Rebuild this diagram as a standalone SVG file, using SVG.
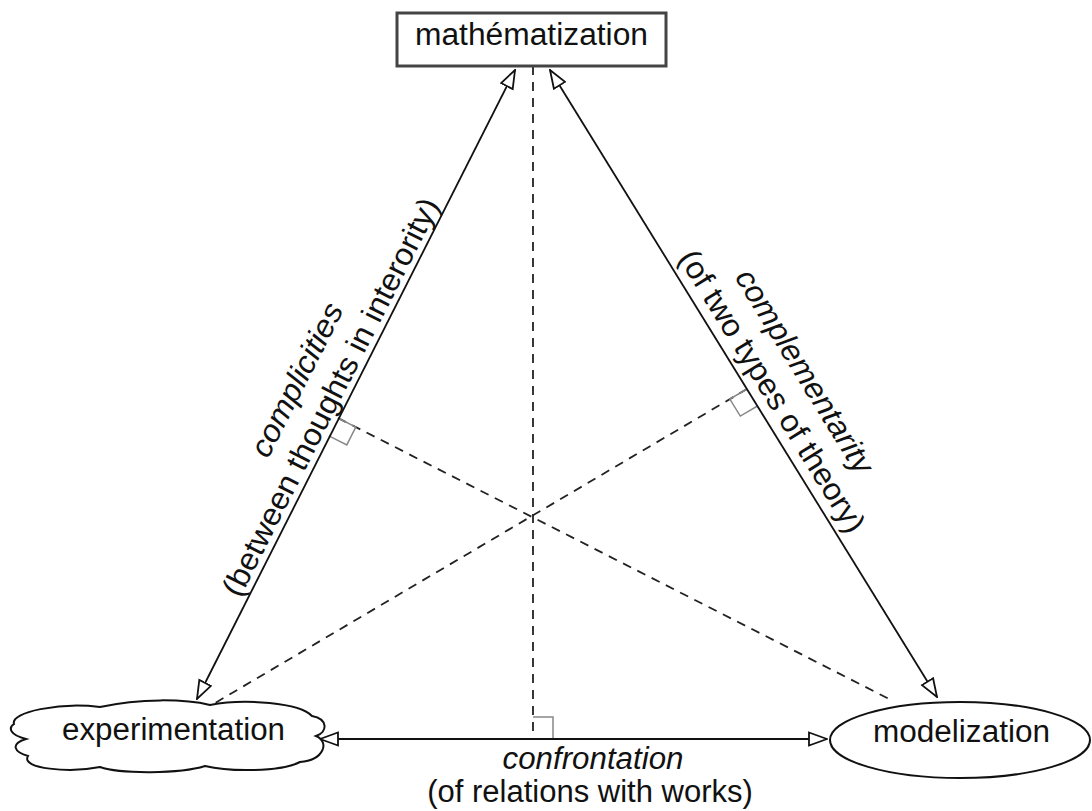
<svg xmlns="http://www.w3.org/2000/svg" width="1092" height="811" viewBox="0 0 1092 811">
<style>
  .lbl{font-family:"Liberation Sans",Arial,sans-serif;font-size:31px;fill:#111}
  .it{font-style:italic}
  .edge{stroke:#111;stroke-width:1.8;fill:none}
  .dash{stroke:#222;stroke-width:1.8;fill:none;stroke-dasharray:9 7}
  .sq{stroke:#888;stroke-width:1.5;fill:none}
  .shape{fill:#fff;stroke:#111;stroke-width:2}
</style>
<defs>
  <marker id="tri" viewBox="0 0 20 16" refX="19" refY="8" markerWidth="20" markerHeight="16" markerUnits="userSpaceOnUse" orient="auto-start-reverse">
    <path d="M1,1.5 L19,8 L1,14.5 Z" fill="#fff" stroke="#111" stroke-width="1.8" stroke-linejoin="miter"/>
  </marker>
</defs>
<rect width="1092" height="811" fill="#fff"/>

<g id="connectors">
  <line class="dash" x1="533" y1="66" x2="533" y2="739"/>
  <line class="dash" x1="338" y1="418" x2="893" y2="701"/>
  <line class="dash" x1="747" y1="389" x2="210" y2="706"/>
  <path class="sq" d="M338,418 L355.8,427.1 L346.8,444.9 L328.9,435.8"/>
  <path class="sq" d="M747,389 L729.8,399.1 L740.3,416.1 L757.5,406"/>
  <path class="sq" d="M533,717 L553,717 L553,739"/>
  <line class="edge" x1="197" y1="699" x2="515" y2="70" marker-start="url(#tri)" marker-end="url(#tri)"/>
  <line class="edge" x1="550" y1="70" x2="937" y2="697" marker-start="url(#tri)" marker-end="url(#tri)"/>
  <line class="edge" x1="320" y1="739" x2="827" y2="739" marker-start="url(#tri)" marker-end="url(#tri)"/>
  <text class="lbl it" text-anchor="middle" transform="translate(306,384.5) rotate(-63.07)" textLength="168" lengthAdjust="spacingAndGlyphs">complicities</text>
  <text class="lbl" text-anchor="middle" transform="translate(339.9,401.7) rotate(-63.07)" textLength="442" lengthAdjust="spacingAndGlyphs">(between thoughts in interority)</text>
  <text class="lbl it" text-anchor="middle" transform="translate(795.6,376.7) rotate(58.32)" textLength="234" lengthAdjust="spacingAndGlyphs">complementarity</text>
  <text class="lbl" text-anchor="middle" transform="translate(763.3,396.6) rotate(58.32)" textLength="326" lengthAdjust="spacingAndGlyphs">(of two types of theory)</text>
  <text class="lbl it" x="593" y="769" text-anchor="middle" textLength="181" lengthAdjust="spacingAndGlyphs">confrontation</text>
  <text class="lbl" x="590" y="802" text-anchor="middle">(of relations with works)</text>
</g>

<g id="mathematization">
  <rect x="397" y="13" width="269" height="53" fill="#fff" stroke="#444" stroke-width="3"/>
  <text class="lbl" x="531.5" y="45" text-anchor="middle" textLength="233" lengthAdjust="spacingAndGlyphs">mathématization</text>
</g>

<g id="experimentation">
  <path class="shape" d="M14,724 C10,712 60,702 100,707 C140,698 185,699 210,705 C245,698 300,703 312,716 C328,719 328,732 316,736 C330,742 324,760 300,762 C280,772 230,772 205,766 C180,774 120,774 100,767 C70,773 20,769 28,756 C14,752 10,744 26,739 C10,735 8,728 14,724 Z"/>
  <text class="lbl" x="173.5" y="740" text-anchor="middle" textLength="223" lengthAdjust="spacingAndGlyphs">experimentation</text>
</g>

<g id="modelization">
  <ellipse class="shape" cx="960" cy="740" rx="130" ry="38"/>
  <text class="lbl" x="961.5" y="742" text-anchor="middle" textLength="177" lengthAdjust="spacingAndGlyphs">modelization</text>
</g>
</svg>
